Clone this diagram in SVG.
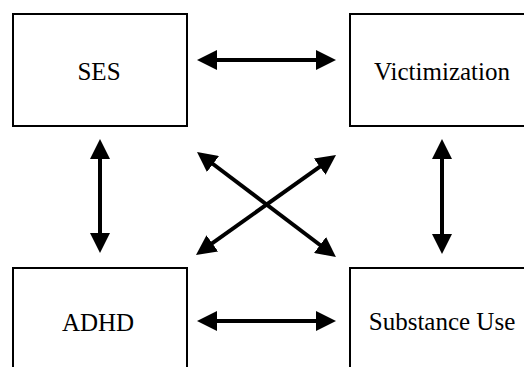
<svg xmlns="http://www.w3.org/2000/svg" width="524" height="367" viewBox="0 0 524 367">
<style>
.box{fill:#fff;stroke:#000;stroke-width:2}
.lbl{font-family:"Liberation Serif","Times New Roman",serif;font-size:25px;fill:#000;text-anchor:middle}
.arr{stroke:#000;stroke-width:4;fill:none;marker-start:url(#ah);marker-end:url(#ah)}
</style>
<defs>
<marker id="ah" markerUnits="userSpaceOnUse" markerWidth="20" markerHeight="20" refX="5" refY="10" orient="auto-start-reverse">
<path d="M0,0 L20,10 L0,20 z" fill="#000"/>
</marker>
</defs>
<rect width="524" height="367" fill="#fff"/>
<g id="ses"><rect class="box" x="13" y="14" width="174" height="112"/><text class="lbl" x="99" y="80">SES</text></g>
<g id="victimization"><rect class="box" x="350" y="14" width="184" height="112"/><text class="lbl" x="442" y="80">Victimization</text></g>
<g id="adhd"><rect class="box" x="13" y="268" width="174" height="112"/><text class="lbl" x="98" y="331">ADHD</text></g>
<g id="substance"><rect class="box" x="350" y="268" width="184" height="112"/><text class="lbl" x="442" y="330">Substance Use</text></g>
<g id="connectors">
<line class="arr" x1="212" y1="60" x2="321" y2="60"/>
<line class="arr" x1="212" y1="321" x2="321" y2="321"/>
<line class="arr" x1="100" y1="154" x2="100" y2="238"/>
<line class="arr" x1="442" y1="154" x2="442" y2="239"/>
<line class="arr" x1="209" y1="161" x2="324" y2="248"/>
<line class="arr" x1="208.2" y1="246.2" x2="323.8" y2="163.8"/>
</g>
</svg>
